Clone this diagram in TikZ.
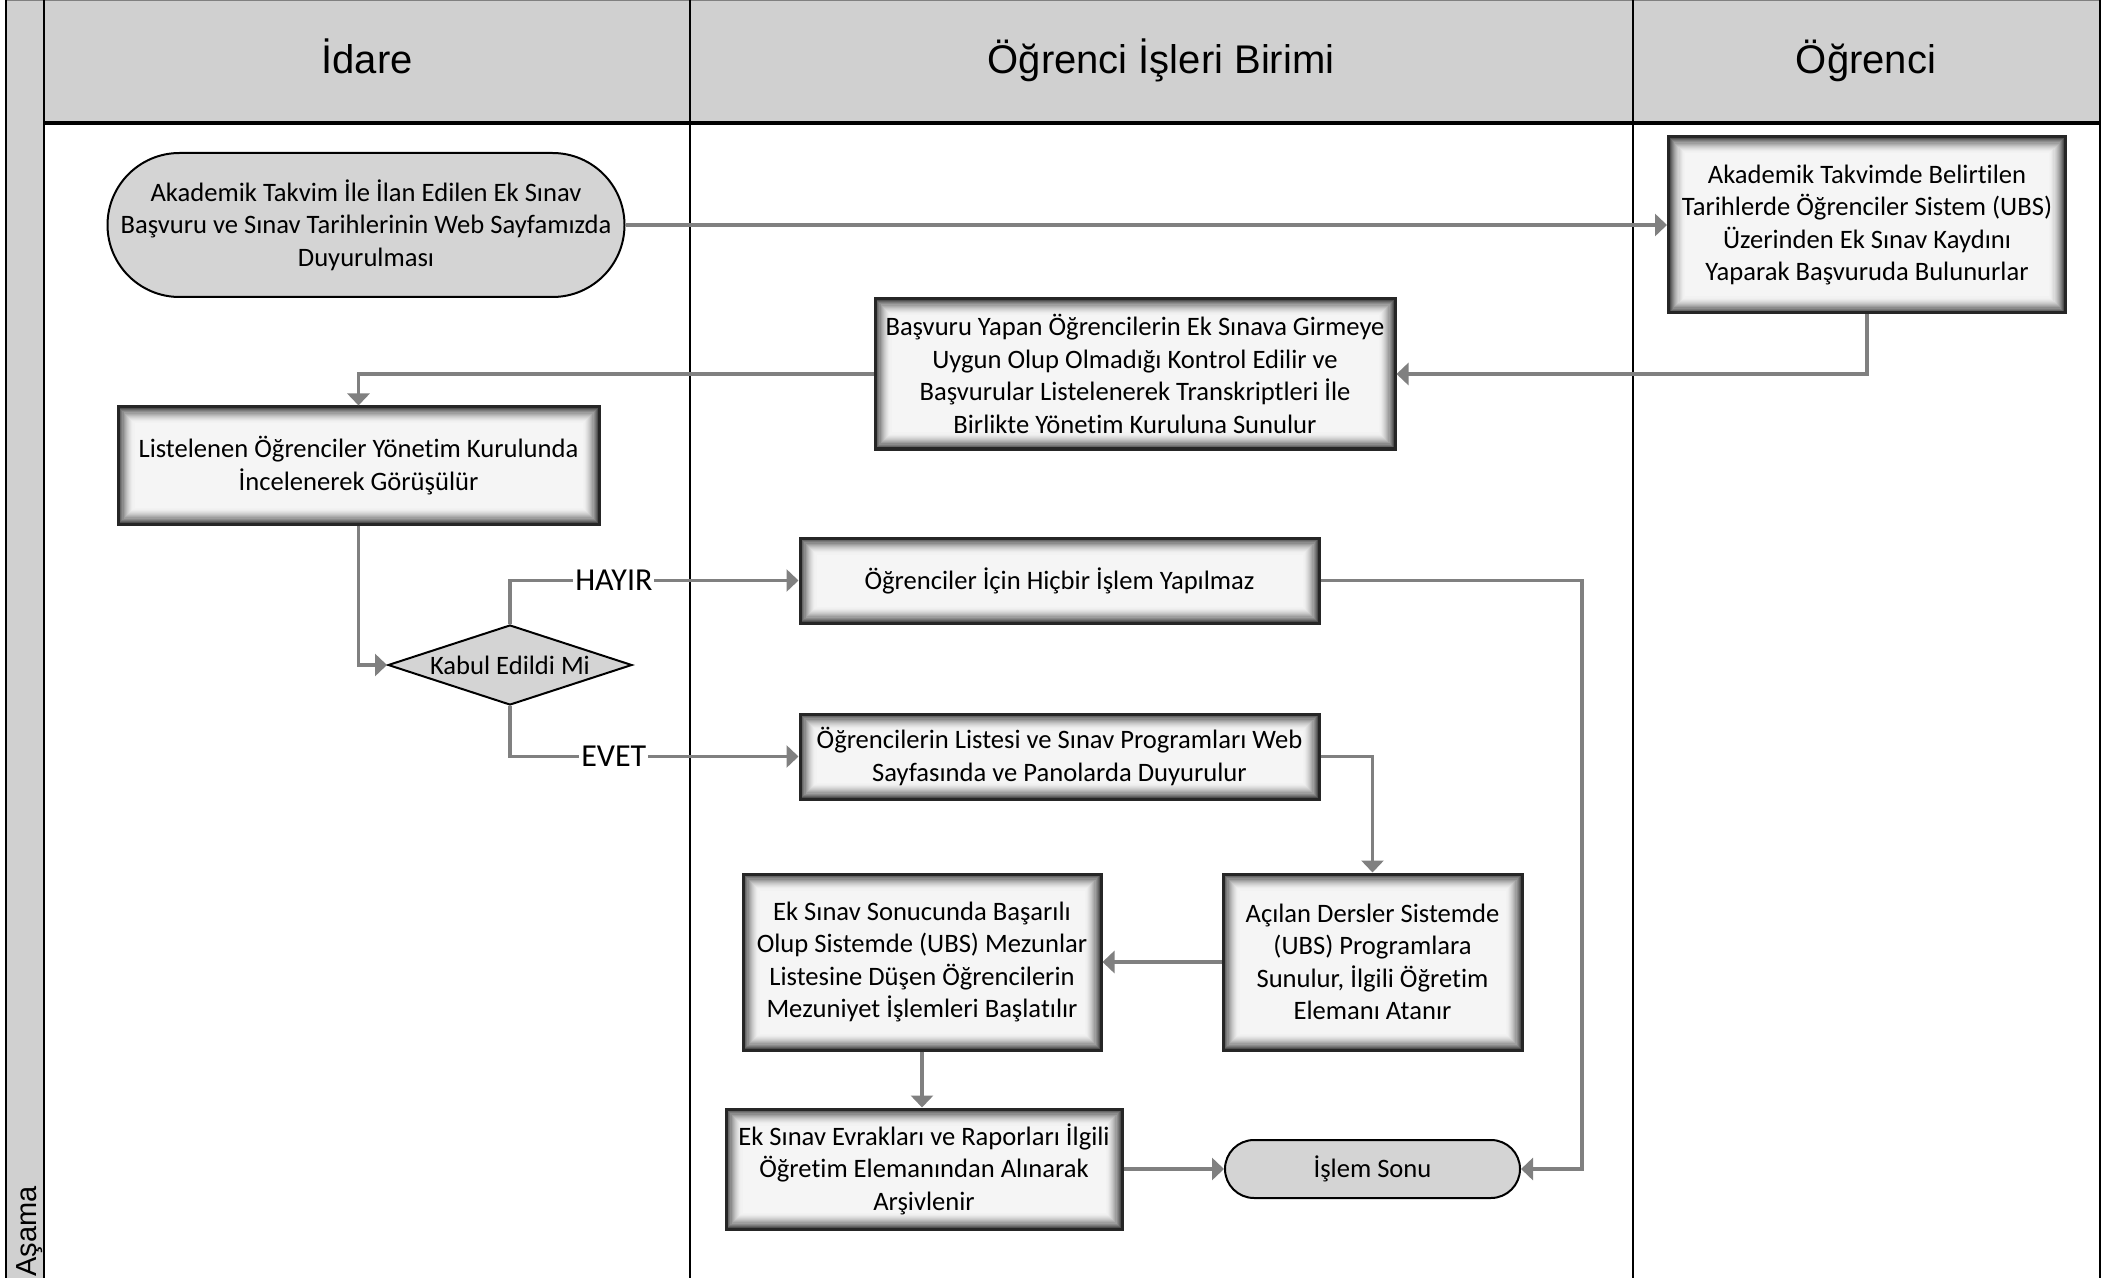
\documentclass[tikz,border=0pt]{standalone}
\usepackage{fontspec}
\setmainfont{Carlito}[Ligatures={NoCommon}]
\newfontfamily\arialfont{Liberation Sans}
\usetikzlibrary{arrows.meta,shapes.geometric,calc}
\definecolor{hdrgray}{HTML}{D0D0D0}
\definecolor{termgray}{HTML}{D4D4D4}
\definecolor{conngray}{HTML}{808080}
\begin{document}
\begin{tikzpicture}[x=0.5pt,y=-0.5pt,
  boxtext/.style={font=\fontsize{13.3pt}{16.25pt}\selectfont, align=center, text=black},
  glowbox/.style={boxtext, rectangle, draw=black!85, line width=1.5pt, fill=black!4, inner sep=0pt,
    path picture={
      \foreach \i in {0,...,15}{
        \pgfmathtruncatemacro{\c}{4+74*(1-\i/16)^2}
        \draw[line width=0.8pt, draw=black!\c]
          ([shift={(\i*0.55pt+0.4pt,\i*0.55pt+0.4pt)}]path picture bounding box.south west) rectangle
          ([shift={(-\i*0.55pt-0.4pt,-\i*0.55pt-0.4pt)}]path picture bounding box.north east);
      }}},
  term/.style={boxtext, rectangle, draw=black, line width=1pt, fill=termgray, inner sep=0pt},
  decision/.style={boxtext, diamond, draw=black, line width=1pt, fill=termgray, inner sep=0pt, shape aspect=3},
  conn/.style={draw=conngray, line width=1.75pt, -{Triangle[length=6pt,width=11pt]}},
  lbl/.style={font=\fontsize{16pt}{18pt}\selectfont, fill=white, inner sep=1pt},
  hdr/.style={font=\arialfont\fontsize{20pt}{24pt}\selectfont, anchor=base, inner sep=0pt},
  lane/.style={draw=black, line width=1.25pt}
]
\useasboundingbox (0,0) rectangle (2125,1278);
% lanes
\fill[hdrgray] (44,0) rectangle (2100,123);
\fill[hdrgray] (6,0) rectangle (44,1278);
\draw[gray, line width=1pt] (6,0.5) -- (2100,0.5);
\draw[lane] (6,0) -- (6,1278);
\draw[lane] (44,0) -- (44,1278);
\draw[lane] (690,0) -- (690,1278);
\draw[lane] (1633,0) -- (1633,1278);
\draw[lane] (2100,0) -- (2100,1278);
\draw[black, line width=1.75pt] (44,123) -- (2100,123);
\node[hdr] (h1) at (367,74) {İdare};
\node[hdr] (h2) at (1161,74) {Öğrenci İşleri Birimi};
\node[hdr] (h3) at (1866,74) {Öğrenci};
\node[font=\arialfont\fontsize{14.5pt}{17pt}\selectfont, rotate=90, anchor=base west, inner sep=0pt] (asama) at (36,1277) {Aşama};
% nodes
\node[term, minimum width=258.5pt, minimum height=72pt, rounded corners=36pt] (start) at (366,225) {Akademik Takvim İle İlan Edilen Ek Sınav\\Başvuru ve Sınav Tarihlerinin Web Sayfamızda\\Duyurulması};
\node[glowbox, minimum width=198.5pt, minimum height=88pt] (ogr) at (1867,225) {Akademik Takvimde Belirtilen\\Tarihlerde Öğrenciler Sistem (UBS)\\Üzerinden Ek Sınav Kaydını\\Yaparak Başvuruda Bulunurlar};
\node[glowbox, minimum width=260pt, minimum height=75pt] (basvuru) at (1135,374) {Başvuru Yapan Öğrencilerin Ek Sınava Girmeye\\Uygun Olup Olmadığı Kontrol Edilir ve\\Başvurular Listelenerek Transkriptleri İle\\Birlikte Yönetim Kuruluna Sunulur};
\node[glowbox, minimum width=240.5pt, minimum height=58.5pt] (liste) at (358.5,465.5) {Listelenen Öğrenciler Yönetim Kurulunda\\İncelenerek Görüşülür};
\node[decision, minimum width=122pt, minimum height=40pt] (dec) at (510,665) {Kabul Edildi Mi};
\node[glowbox, minimum width=259.5pt, minimum height=42.5pt] (hayir) at (1059.5,580.5) {Öğrenciler İçin Hiçbir İşlem Yapılmaz};
\node[glowbox, minimum width=259.5pt, minimum height=42.5pt] (evet) at (1059.5,756.5) {Öğrencilerin Listesi ve Sınav Programları Web\\Sayfasında ve Panolarda Duyurulur};
\node[glowbox, minimum width=149.5pt, minimum height=88pt] (acilan) at (1372.5,962) {Açılan Dersler Sistemde\\(UBS) Programlara\\Sunulur, İlgili Öğretim\\Elemanı Atanır};
\node[glowbox, minimum width=179pt, minimum height=88pt] (ekson) at (922,962) {Ek Sınav Sonucunda Başarılı\\Olup Sistemde (UBS) Mezunlar\\Listesine Düşen Öğrencilerin\\Mezuniyet İşlemleri Başlatılır};
\node[glowbox, minimum width=198pt, minimum height=60pt] (arsiv) at (924,1169) {Ek Sınav Evrakları ve Raporları İlgili\\Öğretim Elemanından Alınarak\\Arşivlenir};
\node[term, minimum width=147.5pt, minimum height=29pt, rounded corners=14.5pt] (sonu) at (1372.5,1169) {İşlem Sonu};
% connectors
\draw[conn] (start.east) -- (ogr.west);
\draw[conn] (ogr.south) |- (basvuru.east);
\draw[conn] (basvuru.west) -| (liste.north);
\draw[conn] (liste.south) |- (dec.west);
\draw[conn] (dec.north) |- node[lbl, pos=0.68] (lh) {HAYIR} (hayir.west);
\draw[conn] (dec.south) |- node[lbl, pos=0.68] (le) {EVET} (evet.west);
\coordinate (rx) at (1582,0);
\draw[conn] (hayir.east) -- (hayir.east -| rx) |- (sonu.east);
\draw[conn] (evet.east) -| (acilan.north);
\draw[conn] (acilan.west) -- (ekson.east);
\draw[conn] (ekson.south) -- (ekson.south |- arsiv.north);
\draw[conn] (arsiv.east) -- (sonu.west);
\end{tikzpicture}
\end{document}
